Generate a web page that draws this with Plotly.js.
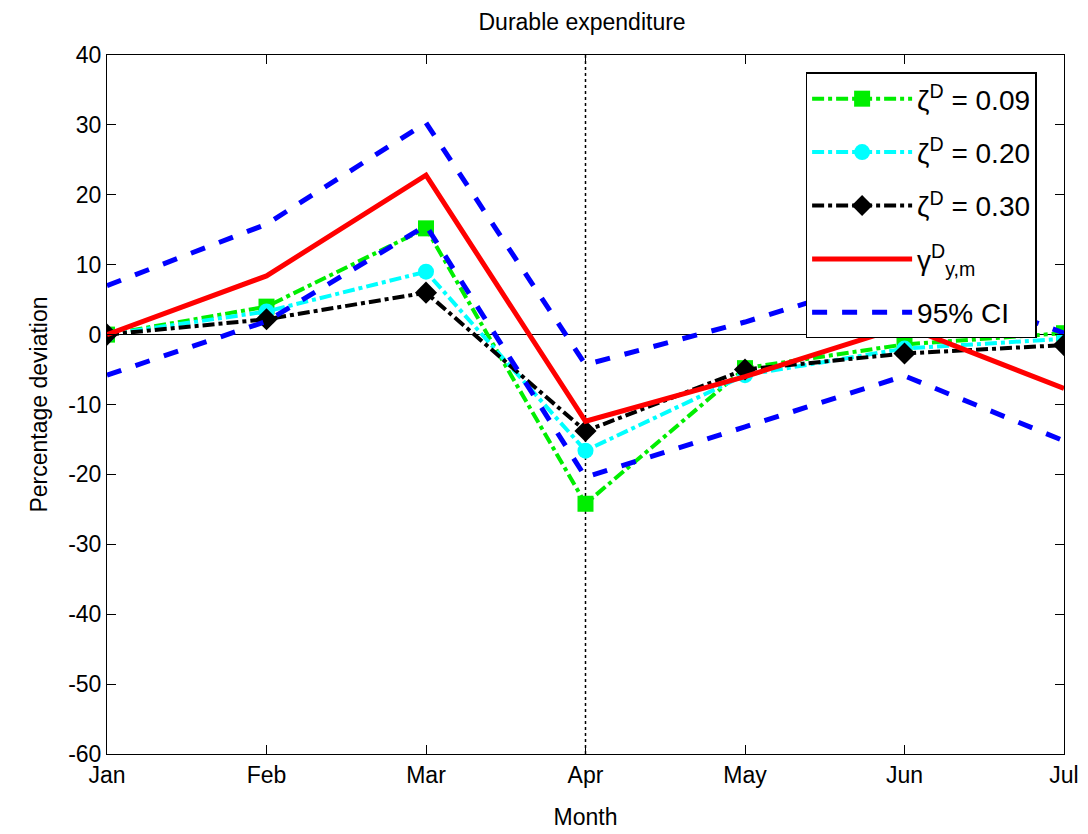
<!DOCTYPE html>
<html>
<head>
<meta charset="utf-8">
<script src="https://cdn.plot.ly/plotly-3.0.1.min.js"></script>
<style>html,body{margin:0;padding:0;background:#fff;}#chart{width:1088px;height:834px;}</style>
</head>
<body>
<div id="chart"></div>
<script>
var months = ["Jan","Feb","Mar","Apr","May","Jun","Jul"];
var zeta009 = [0, 4.0, 15.2, -24.2, -4.8, -1.4, 0.2];
var zeta020 = [0, 3.3, 9.0, -16.6, -5.8, -2.0, -0.6];
var zeta030 = [0, 2.2, 6.0, -13.8, -5.0, -2.7, -1.5];
var gammaYM = [0, 8.4, 22.8, -12.4, -6.0, 1.2, -7.7];
var ciUpper = [7.0, 15.8, 30.3, -4.3, 1.8, 8.8, 0.2];
var ciLower = [-5.8, 1.9, 15.6, -20.4, -13.2, -5.9, -15.2];
var yTicks = [-60,-50,-40,-30,-20,-10,0,10,20,30,40];

var FONT = "Liberation Sans Narrow, Liberation Sans, Arial, sans-serif";

var traces = [
  {x: months, y: zeta009, name: "ζ<sup>D</sup> = 0.09", mode: "lines+markers", legendgroup: "g1",
   line: {color: "#00ee00", width: 4, dash: "dashdot"},
   marker: {symbol: "square", size: 16, color: "#00ee00"}},
  {x: months, y: zeta020, name: "ζ<sup>D</sup> = 0.20", mode: "lines+markers", legendgroup: "g2",
   line: {color: "#00ffff", width: 4, dash: "dashdot"},
   marker: {symbol: "circle", size: 16, color: "#00ffff"}},
  {x: months, y: zeta030, name: "ζ<sup>D</sup> = 0.30", mode: "lines+markers", legendgroup: "g3",
   line: {color: "#000000", width: 4, dash: "dashdot"},
   marker: {symbol: "diamond", size: 17, color: "#000000"}},
  {x: months, y: gammaYM, name: "γ<sup>D</sup><sub>y,m</sub>", mode: "lines", legendgroup: "g4",
   line: {color: "#ff0000", width: 5}},
  {x: months, y: ciUpper, name: "95% CI", mode: "lines", legendgroup: "ci",
   line: {color: "#0000ff", width: 5, dash: "dash"}},
  {x: months, y: ciLower, name: "95% CI", mode: "lines", legendgroup: "ci", showlegend: false,
   line: {color: "#0000ff", width: 5, dash: "dash"}}
];

var layout = {
  width: 1088, height: 834,
  margin: {l: 107, r: 24, t: 55, b: 80},
  paper_bgcolor: "#fff", plot_bgcolor: "#fff",
  font: {family: FONT, size: 23, color: "#000"},
  title: {text: "Durable expenditure", font: {family: FONT, size: 23, color: "#000"},
          x: 0.535, xanchor: "center", y: 0.983, yanchor: "top"},
  xaxis: {type: "category", range: [0, 6], showgrid: false, zeroline: false,
          showline: true, linecolor: "#000", linewidth: 1, mirror: "ticks",
          ticks: "inside", ticklen: 9, tickcolor: "#000",
          tickfont: {family: FONT, size: 23, color: "#000"},
          title: {text: "Month", font: {family: FONT, size: 23}, standoff: 22}},
  yaxis: {range: [-60, 40], tickvals: yTicks, ticktext: yTicks.map(String),
          showgrid: false, zeroline: true, zerolinecolor: "#000", zerolinewidth: 1,
          showline: true, linecolor: "#000", linewidth: 1, mirror: "ticks",
          ticks: "inside", ticklen: 9, tickcolor: "#000",
          tickfont: {family: FONT, size: 23, color: "#000"},
          title: {text: "Percentage deviation", font: {family: FONT, size: 23}, standoff: 14}},
  shapes: [{type: "line", xref: "x", yref: "paper", x0: months[3], x1: months[3], y0: 0, y1: 1,
            line: {color: "#000", width: 1.5, dash: "dot"}, layer: "below"}],
  legend: {x: 0.73, y: 0.975, xanchor: "left", yanchor: "top",
           bgcolor: "#fff", bordercolor: "#000", borderwidth: 1.5,
           font: {family: FONT, size: 28, color: "#000"}, itemwidth: 100,
           tracegroupgap: 14}
};

Plotly.newPlot("chart", traces, layout, {displayModeBar: false, staticPlot: true});
</script>
</body>
</html>
